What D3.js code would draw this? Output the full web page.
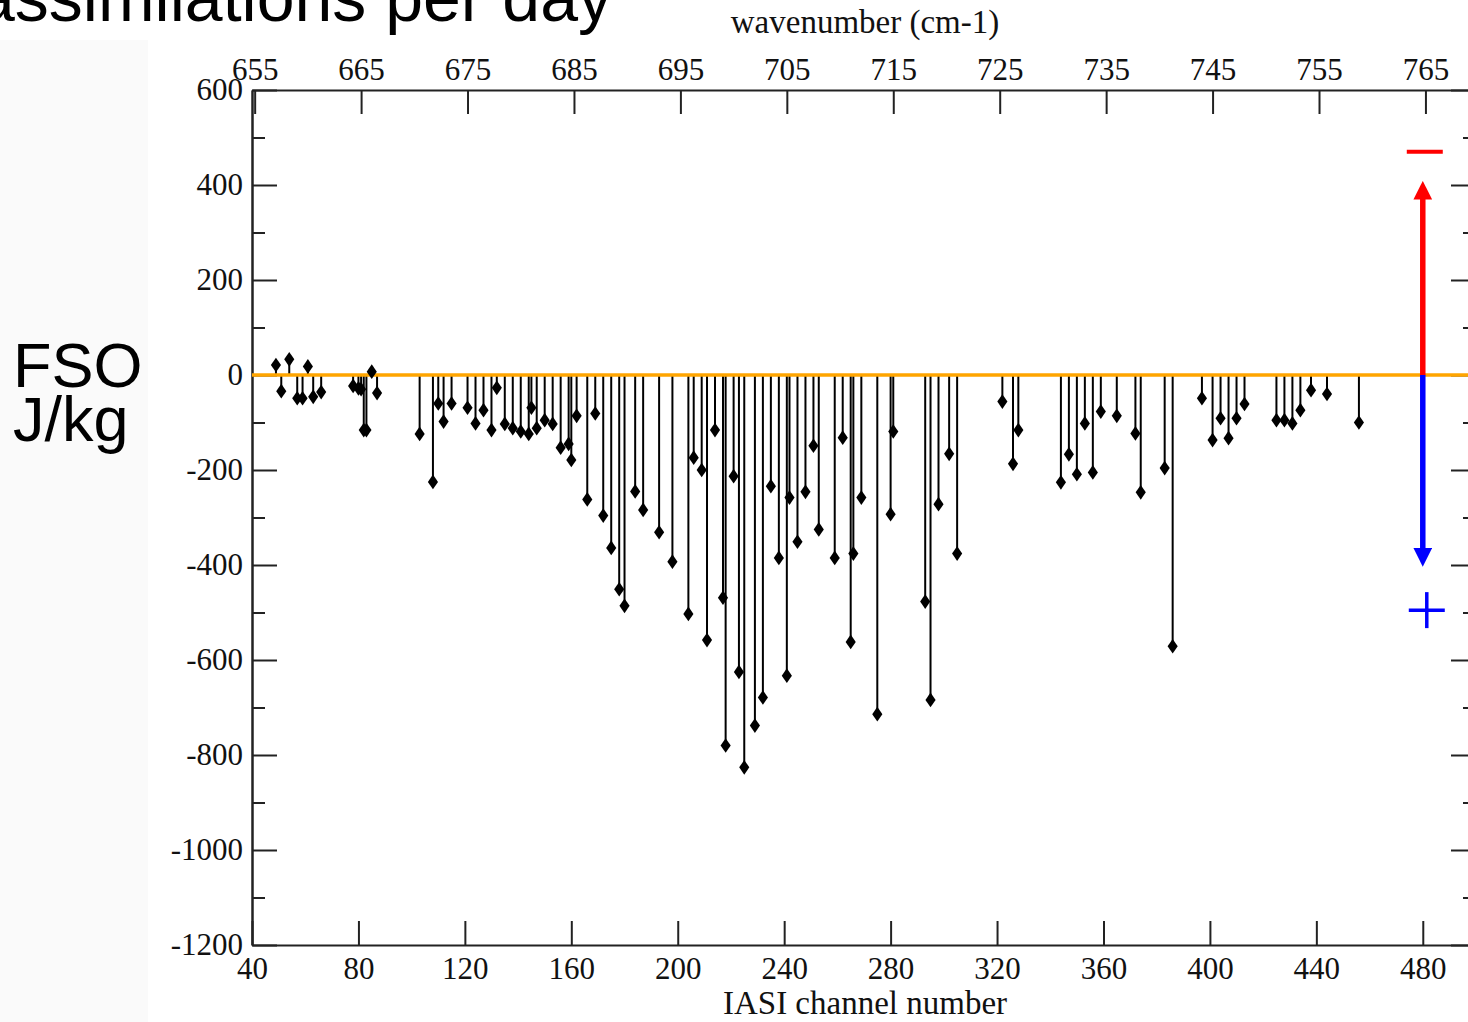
<!DOCTYPE html>
<html>
<head>
<meta charset="utf-8">
<script src="https://cdn.jsdelivr.net/npm/d3@7"></script>
<style>
  html, body { margin: 0; padding: 0; background: #fff; }
  svg { display: block; }
</style>
</head>
<body>
<figure id="fso" style="margin:0"></figure>
<script>
// IASI channel numbers and their FSO (J/kg)
const channels = [49, 51, 54, 57, 59, 61, 63, 66, 78, 80, 81, 82, 83, 85, 87,
  103, 108, 110, 112, 115, 121, 124, 127, 130, 132, 135, 138, 141, 144, 145, 147, 150, 153,
  156, 159, 160, 162, 166, 169, 172, 175, 178, 180, 184, 187, 193, 198,
  204, 206, 209, 211, 214, 217, 218, 221, 223, 225, 229, 232, 235, 238, 241, 242, 245, 248,
  251, 253, 259, 262, 265, 266, 269, 275, 280, 281, 293, 295, 298, 302, 305,
  322, 326, 328, 344, 347, 350, 353, 356, 359, 365, 372, 374, 383, 386,
  397, 401, 404, 407, 410, 413, 425, 428, 431, 434, 438, 444, 456];
const fso = [21, -34, 33, -49, -49, 18, -46, -36, -23, -28, -30, -116, -116, 7, -38,
  -124, -225, -60, -98, -60, -69, -102, -74, -116, -27, -103, -112, -119, -124, -69, -112, -95, -103,
  -153, -145, -179, -86, -262, -81, -296, -364, -451, -486, -245, -284, -331, -393,
  -503, -174, -200, -558, -116, -469, -780, -213, -625, -826, -738, -679, -234, -385, -633, -258, -351, -246,
  -149, -325, -385, -132, -562, -376, -258, -714, -293, -119, -477, -684, -272, -166, -376,
  -56, -187, -116, -226, -167, -209, -102, -205, -77, -86, -123, -247, -196, -571,
  -49, -137, -91, -133, -91, -61, -95, -95, -102, -74, -32, -40, -100];

const channelTicks = [40, 80, 120, 160, 200, 240, 280, 320, 360, 400, 440, 480];
const wavenumberTicks = [655, 665, 675, 685, 695, 705, 715, 725, 735, 745, 755, 765];
const fsoTicks = [600, 400, 200, 0, -200, -400, -600, -800, -1000, -1200];
const fsoMinorTicks = [500, 300, 100, -100, -300, -500, -700, -900, -1100];

// sign key: arrow channel, arrow ends, and where the - / + marks sit
const keyChannel = 480;
const keyArrowEnds = [410, -405];
const keyMarks = [470, -495];

const W = 1468, H = 1022;
const mLeft = 252, mRight = 1476, mTop = 90, mBottom = 945;
const serif = "'Liberation Serif', 'Times New Roman', serif";
const sans = "'Liberation Sans', Arial, Helvetica, sans-serif";

const svg = d3.select("figure#fso").append("svg")
  .attr("width", W).attr("height", H)
  .style("font-family", serif);

// faint strip on the left of the slide
svg.append("rect").attr("x", 0).attr("y", 40).attr("width", 148).attr("height", H - 40)
  .attr("fill", "#fafafa");

const x = d3.scaleLinear().domain([40, 500]).range([mLeft, mRight]);
const wn = ch => 645 + (ch - 1) * 0.25;
const xTop = d3.scaleLinear().domain([wn(40), wn(500)]).range([mLeft, mRight]);
const y = d3.scaleLinear().domain([-1200, 600]).range([mBottom, mTop]);

function styleAxis(g) {
  g.select(".domain").attr("stroke", "#222").attr("stroke-width", 2);
  g.selectAll(".tick line").attr("stroke", "#222").attr("stroke-width", 2);
  g.selectAll(".tick text").attr("fill", "#111").style("font-size", "31px")
    .style("font-family", serif);
}
const plain = d => String(d).replace("\u2212", "-");

// bottom axis (channel number)
svg.append("g").attr("transform", `translate(0,${mBottom})`)
  .call(d3.axisBottom(x).tickValues(channelTicks).tickFormat(plain)
    .tickSize(-24).tickPadding(12).tickSizeOuter(0))
  .call(styleAxis);

// top axis (wavenumber)
svg.append("g").attr("transform", `translate(0,${mTop})`)
  .call(d3.axisTop(xTop).tickValues(wavenumberTicks).tickFormat(plain)
    .tickSize(-24).tickPadding(10).tickSizeOuter(0))
  .call(styleAxis);

// left axis
svg.append("g").attr("transform", `translate(${mLeft},0)`)
  .call(d3.axisLeft(y).tickValues(fsoTicks).tickFormat(plain)
    .tickSize(-25).tickPadding(9).tickSizeOuter(0))
  .call(styleAxis);
svg.append("g").attr("transform", `translate(${mLeft},0)`)
  .call(d3.axisLeft(y).tickValues(fsoMinorTicks).tickSize(-13).tickFormat("").tickSizeOuter(0))
  .call(styleAxis);

// right axis
svg.append("g").attr("transform", `translate(${mRight},0)`)
  .call(d3.axisRight(y).tickValues(fsoTicks).tickSize(-25).tickFormat("").tickSizeOuter(0))
  .call(styleAxis);
svg.append("g").attr("transform", `translate(${mRight},0)`)
  .call(d3.axisRight(y).tickValues(fsoMinorTicks).tickSize(-13).tickFormat("").tickSizeOuter(0))
  .call(styleAxis);

// axis titles
svg.append("text").attr("x", 865).attr("y", 33).attr("text-anchor", "middle")
  .style("font-size", "33px").attr("fill", "#111").text("wavenumber (cm-1)");
svg.append("text").attr("x", 865).attr("y", 1014).attr("text-anchor", "middle")
  .style("font-size", "33px").attr("fill", "#111").text("IASI channel number");

// slide text
svg.append("text").attr("x", 612).attr("y", 21).attr("text-anchor", "end")
  .style("font-family", sans).style("font-size", "68px").text("assimilations per day");
svg.append("text").attr("x", 13).attr("y", 387)
  .style("font-family", sans).style("font-size", "63px").text("FSO");
svg.append("text").attr("x", 13).attr("y", 441)
  .style("font-family", sans).style("font-size", "63px").text("J/kg");

const data = channels.map((c, i) => ({ ch: c, v: fso[i] }));

// stems
svg.append("g").selectAll("line").data(data).enter().append("line")
  .attr("x1", d => x(d.ch)).attr("x2", d => x(d.ch))
  .attr("y1", y(0)).attr("y2", d => y(d.v))
  .attr("stroke", "#000").attr("stroke-width", 2);

// zero line
svg.append("line").attr("x1", mLeft).attr("x2", W)
  .attr("y1", y(0)).attr("y2", y(0))
  .attr("stroke", "#ffa500").attr("stroke-width", 3.5);

// diamonds
svg.append("g").selectAll("path").data(data).enter().append("path")
  .attr("d", d3.symbol().type(d3.symbolDiamond).size(62))
  .attr("transform", d => `translate(${x(d.ch)},${y(d.v)}) scale(1.2,1)`)
  .attr("fill", "#000");

// sign key: red up arrow (-), blue down arrow (+)
const defs = svg.append("defs");
[["arRed", "#ff0000"], ["arBlue", "#0000ff"]].forEach(([id, col]) => {
  defs.append("marker").attr("id", id).attr("viewBox", "0 0 10 10")
    .attr("refX", 5).attr("refY", 5).attr("markerWidth", 3.4).attr("markerHeight", 3.4)
    .attr("markerUnits", "strokeWidth").attr("orient", "auto")
    .append("path").attr("d", "M0,0 L10,5 L0,10 Z").attr("fill", col);
});
const kx = x(keyChannel);
svg.append("line").attr("x1", kx).attr("x2", kx)
  .attr("y1", y(0)).attr("y2", y(keyArrowEnds[0]) + 10)
  .attr("stroke", "#ff0000").attr("stroke-width", 5.5).attr("marker-end", "url(#arRed)");
svg.append("line").attr("x1", kx).attr("x2", kx)
  .attr("y1", y(0)).attr("y2", y(keyArrowEnds[1]) - 10)
  .attr("stroke", "#0000ff").attr("stroke-width", 5.5).attr("marker-end", "url(#arBlue)");
// minus
svg.append("line").attr("x1", kx - 16).attr("x2", kx + 20)
  .attr("y1", y(keyMarks[0])).attr("y2", y(keyMarks[0]))
  .attr("stroke", "#ff0000").attr("stroke-width", 4);
// plus
svg.append("line").attr("x1", kx - 14).attr("x2", kx + 22)
  .attr("y1", y(keyMarks[1])).attr("y2", y(keyMarks[1]))
  .attr("stroke", "#0000ff").attr("stroke-width", 3.5);
svg.append("line").attr("x1", kx + 4).attr("x2", kx + 4)
  .attr("y1", y(keyMarks[1]) - 18).attr("y2", y(keyMarks[1]) + 18)
  .attr("stroke", "#0000ff").attr("stroke-width", 3.5);
</script>
</body>
</html>
